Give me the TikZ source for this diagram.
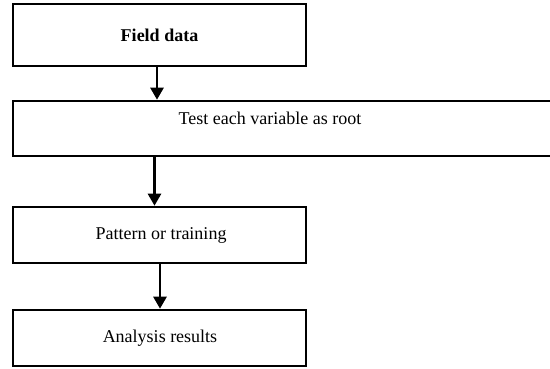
\documentclass[tikz,border=0pt]{standalone}
\usepackage{fontspec}
\setmainfont{Liberation Serif}
\usetikzlibrary{arrows.meta}
\begin{document}
\begin{tikzpicture}[x=1pt,y=-1pt,
  box/.style={draw=black, line width=2.6pt, rectangle, inner sep=0pt, fill=white},
  lbl/.style={inner sep=0pt, font=\fontsize{18}{22}\selectfont},
  conn/.style={line width=2.6pt, -{Triangle[width=13pt,length=12pt]}}]
\useasboundingbox[fill=white] (0,0) rectangle (550,368);
\node[box, minimum width=293pt, minimum height=62pt] (b1) at (159.5,35) {};
\node[lbl, font=\fontsize{18}{22}\selectfont\bfseries] (t1) at (159.5,35) {Field data};
\node[box, minimum width=541pt, minimum height=55pt] (b2) at (283.5,128.5) {};
\node[lbl] (t2) at (270,118.5) {Test each variable as root};
\node[box, minimum width=293pt, minimum height=56pt] (b3) at (159.5,235) {};
\node[lbl] (t3) at (161,235.5) {Pattern or training};
\node[box, minimum width=293pt, minimum height=56pt] (b4) at (159.5,338) {};
\node[lbl] (t4) at (160,338.5) {Analysis results};
\draw[conn] (b1.south -| 157,0) -- (b2.north -| 157,0);
\draw[conn] (b2.south -| 154.5,0) -- (b3.north -| 154.5,0);
\draw[conn] (b3.south -| 160,0) -- (b4.north -| 160,0);
\end{tikzpicture}
\end{document}
